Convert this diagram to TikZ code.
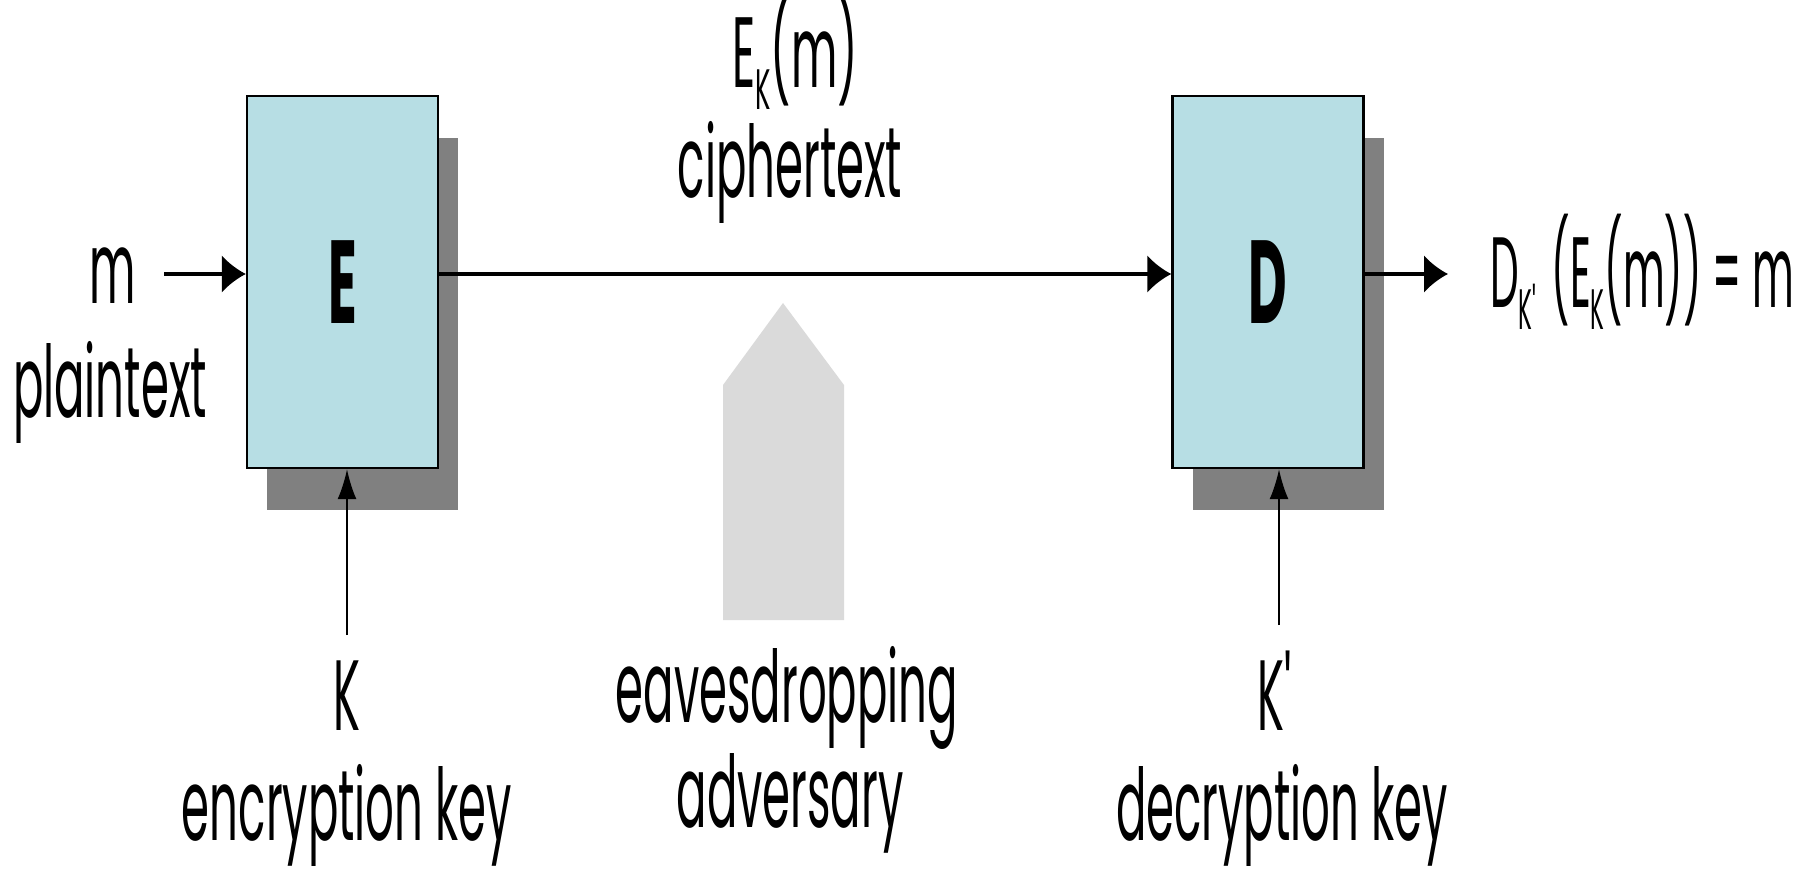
\documentclass[tikz,border=0pt]{standalone}
\usepackage{fontspec}
\setmainfont{Poppins}[FakeStretch=0.45]
\usetikzlibrary{arrows.meta,shadows}
\definecolor{boxfill}{RGB}{183,222,228}
\definecolor{shade}{RGB}{128,128,128}
\definecolor{spy}{RGB}{218,218,218}
% lowered, smaller index letter (E_K, D_K')
\newcommand\lowsub[1]{\raisebox{-22pt}{\fontsize{57pt}{57pt}\selectfont #1}}

\begin{document}
\begin{tikzpicture}[x=1pt,y=-1pt,
  lbl/.style={inner sep=0pt, anchor=base, font=\fontsize{100pt}{115pt}\selectfont},
  cipher/.style={draw=black, line width=2.4pt, fill=boxfill,
    minimum width=191pt, minimum height=372pt, inner sep=0pt,
    font=\fontsize{118pt}{118pt}\selectfont\bfseries,
    drop shadow={shadow xshift=20pt, shadow yshift=-42pt, fill=shade, opacity=1}},
  hline/.style={line width=3.2pt},
  harrow/.style={hline, -{Latex[length=24pt,width=38pt]}},
  varrow/.style={line width=2pt, -{Latex[length=30pt,width=19pt]}},
]
\useasboundingbox (0,0) rectangle (1820,877);

% eavesdropper marker
\fill[spy] (723,620) -- (723,385) -- (783,303) -- (844,385) -- (844,620) -- cycle;

% encryption and decryption blocks
\node[cipher] (E) at (342.5,282) {E};
\node[cipher] (D) at (1268,282) {D};

% labels
\node[lbl] (m)    at (113,303)  {m};
\node[lbl] (pt)   at (110,417)  {plaintext};
\node[lbl] (ek)   at (795,88)   {E\lowsub{K}(m)};
\node[lbl] (ct)   at (790,198)  {ciphertext};
\node[lbl] (K)    at (347,730)  {K};
\node[lbl] (ekey) at (347,840)  {encryption key};
\node[lbl] (eav)  at (787,722)  {eavesdropping};
\node[lbl] (adv)  at (790,827)  {adversary};
\node[lbl] (Kp)   at (1279,730) {K\textquotesingle};
\node[lbl] (dkey) at (1282,840) {decryption key};
\node[lbl, anchor=base west] (out) at (1490,307)
  {\scalebox{0.9}[1]{D\lowsub{K\textquotesingle} (E\lowsub{K}(m)) = m}};

% connectors
\coordinate (lvl) at (0,274);
\coordinate (min) at ([xshift=28pt]m.east);
\coordinate (outin) at ([xshift=-42pt]out.west);
\coordinate (kin) at ([yshift=25pt]K.north);
\coordinate (kpin) at ([yshift=25pt]Kp.north);

\draw[harrow] (min |- lvl) -- (E.west |- lvl);
\draw[harrow] (E.east |- lvl) -- (D.west |- lvl);
\draw[harrow] (D.east |- lvl) -- (outin |- lvl);
\draw[varrow] (kin) -- (E.south -| kin);
\draw[varrow] (kpin) -- (D.south -| kpin);
\end{tikzpicture}
\end{document}
